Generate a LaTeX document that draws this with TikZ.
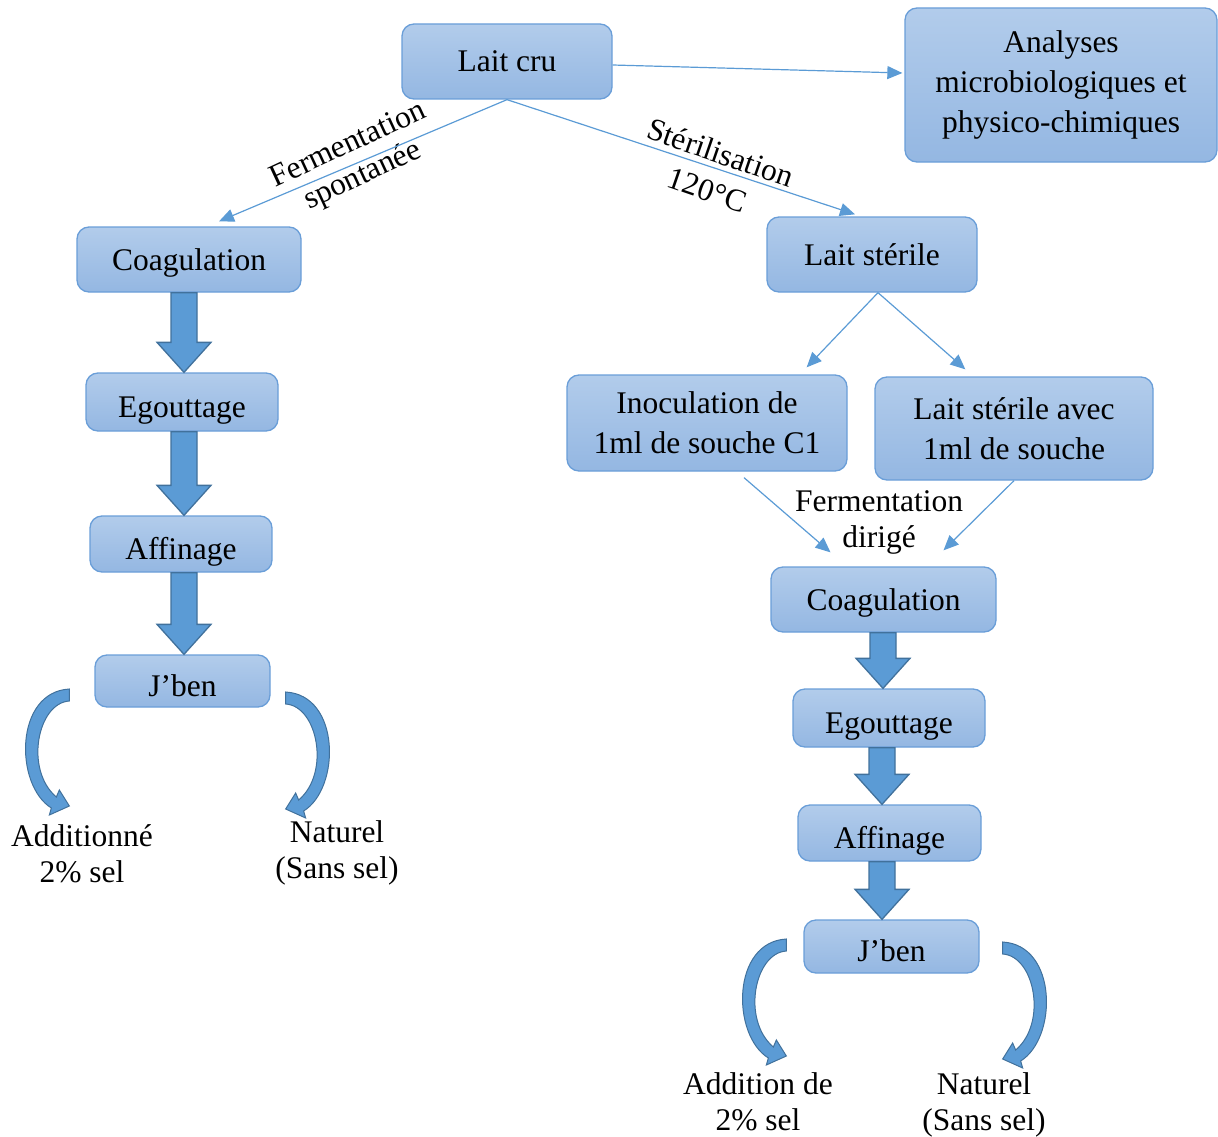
\documentclass[tikz,border=0pt]{standalone}
\usepackage{fontspec}
\setmainfont{Liberation Serif}
\usepackage{tikz}
\usetikzlibrary{arrows.meta,calc,positioning}
\definecolor{boxtop}{HTML}{B2CCEB}
\definecolor{boxbot}{HTML}{94B7E2}
\definecolor{boxline}{HTML}{6A9ED8}
\definecolor{linkblue}{HTML}{5B9BD5}
\definecolor{darkblue}{HTML}{41719C}

\tikzset{
  stage/.style={draw=boxline, line width=1.3pt, rounded corners=12pt, top color=boxtop, bottom color=boxbot, align=center, inner sep=0pt},
  one/.style={text height=21pt, text depth=0pt},
  low/.style={text height=30pt, text depth=0pt},
  link/.style={draw=linkblue, line width=1.2pt, -{Triangle[length=15pt,width=13pt]}},
  blockarrow/.style={fill=linkblue, draw=darkblue, line width=1.3pt},
  bendarrow/.style={fill=linkblue, draw=darkblue, line width=1pt},
  lbl/.style={align=center, font=\fontsize{31.5pt}{36pt}\selectfont},
  slant/.style={inner sep=0pt, font=\fontsize{31.5pt}{34pt}\selectfont},
  bend/.pic={
    \filldraw[bendarrow] (0,0) -- (0,12) .. controls (-32,14) and (-45,81) .. (-13,108)
      -- (-10,101) -- (0,117) -- (-20,126) -- (-18,119) .. controls (-55,96) and (-55,3) .. (0,0) -- cycle;
  }
}

\begin{document}
\begin{tikzpicture}[x=1pt,y=-1pt,font=\fontsize{31.5pt}{40pt}\selectfont]
        \useasboundingbox (0,0) rectangle (1218,1137);
        %Boxes
        \node[stage,one,minimum width=210pt,minimum height=75pt] (laitcru) at (507,61.5) {Lait cru};
        \node[stage,minimum width=312pt,minimum height=154pt] (analyses) at (1061,85) {Analyses\\microbiologiques et\\physico-chimiques};
        \node[stage,one,minimum width=224pt,minimum height=65pt] (coagL) at (189,259.5) {Coagulation};
        \node[stage,low,minimum width=192pt,minimum height=58pt] (egoL) at (182,402) {Egouttage};
        \node[stage,low,minimum width=182pt,minimum height=56pt] (affL) at (181,544) {Affinage};
        \node[stage,low,minimum width=175pt,minimum height=52pt] (jbenL) at (182.5,681) {J’ben};
        \node[stage,one,minimum width=210pt,minimum height=75pt] (steril) at (872,254.5) {Lait stérile};
        \node[stage,minimum width=280pt,minimum height=96pt] (inoc) at (707,423) {Inoculation de\\1ml de souche C1};
        \node[stage,minimum width=278pt,minimum height=103pt] (avec) at (1014,428.5) {Lait stérile avec\\1ml de souche};
        \node[stage,one,minimum width=225pt,minimum height=65pt] (coagR) at (883.5,599.5) {Coagulation};
        \node[stage,low,minimum width=192pt,minimum height=58pt] (egoR) at (889,718) {Egouttage};
        \node[stage,low,minimum width=183pt,minimum height=56pt] (affR) at (889.5,833) {Affinage};
        \node[stage,low,minimum width=175pt,minimum height=53pt] (jbenR) at (891.5,946.5) {J’ben};
        %Labels
        \node[slant,align=center,rotate=25] (spont) at (356,161.2) {Fermentation\\spontanée};
        \node[slant,one,rotate=-19] (steri) at (720.5,152.8) {Stérilisation};
        \node[slant,one,rotate=-19] (temp) at (707.5,190) {120°C};
        \node[lbl] (dirig) at (879,522) {Fermentation\\dirigé};
        \node[lbl] (selL) at (82,854) {Additionné\\2\% sel};
        \node[lbl] (natL) at (337,853) {Naturel\\(Sans sel)};
        \node[lbl] (selR) at (758,1102) {Addition de\\2\% sel};
        \node[lbl] (natR) at (984,1105) {Naturel\\(Sans sel)};
        %Links
        \draw[link] (laitcru.south) -- ([xshift=30pt,yshift=5pt]coagL.north);
        \draw[link] (laitcru.south) -- ([xshift=-17pt,yshift=2pt]steril.north);
        \draw[link] ([yshift=-3.5pt]laitcru.east) -- ([xshift=-2pt,yshift=12pt]analyses.west);
        \draw[link] ([xshift=6pt]steril.south) -- ([xshift=-41pt,yshift=7pt]inoc.north east);
        \draw[link] ([xshift=6pt]steril.south) -- ([xshift=91pt,yshift=7pt]avec.north west);
        \draw[link] ([xshift=37pt,yshift=-6pt]inoc.south) -- ([xshift=-53pt,yshift=14pt]coagR.north);
        \draw[link] (avec.south) -- ([xshift=60pt,yshift=16pt]coagR.north);
        %Thick arrows
        \coordinate (colL) at (184,0);
        \coordinate (colR) at (883,0);
        \coordinate (colS) at (882,0);
        \foreach \src/\dst/\col in {coagL/egoL/colL, egoL/affL/colL, affL/jbenL/colL, coagR/egoR/colR, egoR/affR/colS, affR/jbenR/colS}{
          \coordinate (t) at (\col |- \src.south);
          \coordinate (h) at (\col |- \dst.north);
          \filldraw[blockarrow] ($(t)+(-13,0)$) -- ($(t)+(13,0)$) -- ($(h)+(13,-30)$) -- ($(h)+(27,-30)$)
            -- (h) -- ($(h)+(-27,-30)$) -- ($(h)+(-13,-30)$) -- cycle;
        }
        %Curved arrows
        \pic at ([xshift=-25pt,yshift=-8pt]jbenL.west) {bend};
        \pic[xscale=-1] at ([xshift=15pt,yshift=-11pt]jbenL.east) {bend};
        \pic at ([xshift=-17pt,yshift=7.5pt]jbenR.west) {bend};
        \pic[xscale=-1] at ([xshift=23pt,yshift=4.5pt]jbenR.east) {bend};
      \end{tikzpicture}
\end{document}
